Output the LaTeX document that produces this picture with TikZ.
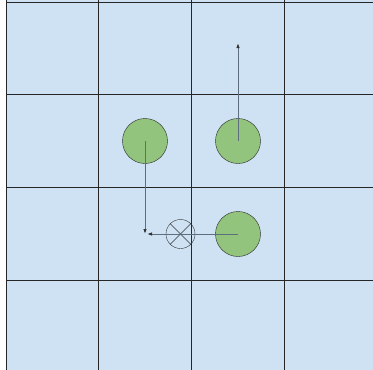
\documentclass[tikz,border=0pt]{standalone}
\usetikzlibrary{arrows.meta}

\definecolor{cellblue}{HTML}{CFE2F3}
\definecolor{ballgreen}{HTML}{93C47D}
\definecolor{arrowgray}{HTML}{5F6E7E}

\begin{document}
\begin{tikzpicture}[x=1pt, y=-1pt,
		ball/.style={circle, draw=black!85, fill=ballgreen, minimum size=45pt, inner sep=0pt},
		target/.style={circle, draw=black!80, minimum size=29pt, inner sep=0pt},
		move/.style={draw=arrowgray, line width=1pt, -{Latex[length=5pt, width=3.5pt, color=black!80]}},
	]
		\useasboundingbox (0,0) rectangle (373,370);
		\fill[cellblue] (6,0) rectangle (373,370);
	
		% grid lines
		\foreach \x in {6,98.5,191.5,284.5}
			\draw[black!85, line width=1pt] (\x,0) -- (\x,370);
		\foreach \y in {2,94,187,280}
			\draw[black!85, line width=1pt] (6,\y) -- (373,\y);
		
		\node[ball] (left) at (145,141) {};
		\node[ball] (right) at (238,141) {};
		\node[ball] (low) at (238,234) {};
		\node[target] (cross) at (180.5,234) {};
		\draw[black!80] (cross.north west) -- (cross.south east);
		\draw[black!80] (cross.north east) -- (cross.south west);
		
		\coordinate (up) at (238,43);
		\coordinate (down) at (145,234);
		\coordinate (back) at (147,234);
		
		\draw[move] (right.center) -- (up);
		\draw[move] (left.center) -- (down);
		\draw[move] (low.center) -- (back);
	\end{tikzpicture}
\end{document}
